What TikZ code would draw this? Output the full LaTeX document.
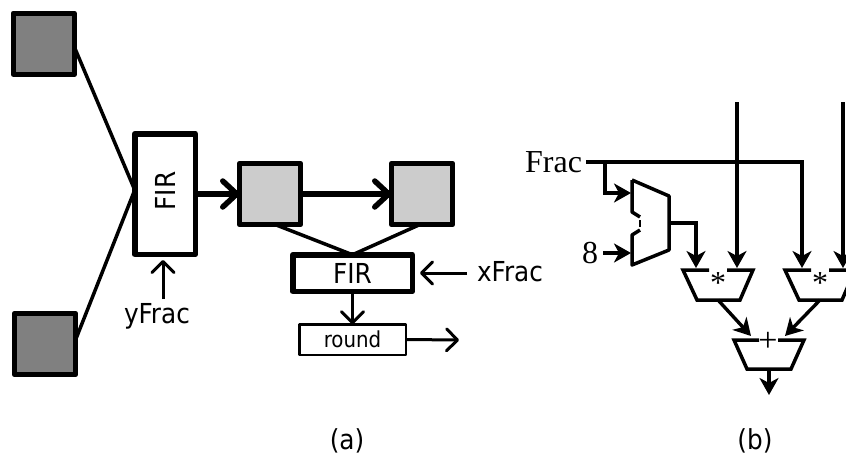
\documentclass[tikz,border=0pt]{standalone}
\usepackage{fontspec}
\usetikzlibrary{arrows.meta,calc}
\setmainfont{DejaVu Sans Condensed}
\newfontfamily\serifface{Liberation Serif}
\tikzset{
  x=1pt,y=-1pt,
  box/.style={draw=black,outer sep=0pt,inner sep=0pt,line join=round},
  thickbox/.style={box,line width=5.5pt},
  dark/.style={thickbox,fill=black!50,minimum width=61pt,minimum height=61pt},
  light/.style={thickbox,fill=black!20,minimum width=61pt,minimum height=61pt},
  lab/.style={inner sep=0pt,outer sep=0pt,font=\fontsize{27.5}{30}\selectfont},
  serif/.style={inner sep=0pt,outer sep=0pt,font=\fontsize{32}{35}\selectfont\serifface},
  feed/.style={line width=3.5pt},
  bigarrow/.style={line width=5.5pt,-{Straight Barb[length=14pt,width=26pt,round]}},
  openarrow/.style={line width=3pt,-{Straight Barb[length=11pt,width=22pt,round]}},
  wire/.style={line width=3.4pt,line join=miter},
  solid tip/.style={wire,-{Stealth[length=17pt,width=19pt,inset=5pt]}},
  unit/.style={line width=3.5pt,line join=miter,line cap=butt},
}
\begin{document}
\begin{tikzpicture}
\useasboundingbox (0,0) rectangle (846,463);
\clip (0,0) rectangle (846,463);
% (a)
\node[dark] (tl) at (43.75,43.75) {};
\node[dark] (bl) at (45,344) {};
\node[thickbox,fill=white,minimum width=60.5pt,minimum height=120.5pt] (fir1) at (165,194) {};
\node[lab,rotate=90] (fir1t) at (165,191) {FIR};
\node[light] (g1) at (270,194) {};
\node[light] (g2) at (422,194) {};
\node[thickbox,fill=white,minimum width=119.5pt,minimum height=36.5pt,lab] (fir2) at (352.5,273) {FIR};
\node[box,fill=white,line width=2.5pt,minimum width=106.5pt,minimum height=30.5pt,font=\fontsize{22}{25}\selectfont] (rnd) at (352.5,339.5) {round};
\node[lab] (yf) at (157,316) {yFrac};
\node[lab] (xf) at (510,272) {xFrac};
\node[lab] (capa) at (347,441) {(a)};
\coordinate (out) at (459,340);
\coordinate (xs) at (467,273);
\coordinate (xe) at (420,273);
\coordinate (ys) at (163,299);
\coordinate (ye) at (163,260);
\draw[feed] ([yshift=-3pt]tl.east) -- ([yshift=4pt]fir1.west);
\draw[feed] ([yshift=4pt]bl.east) -- ([yshift=4pt]fir1.west);
\draw[bigarrow] (fir1.east) -- (g1.west);
\draw[bigarrow] (g1.east) -- (g2.west);
\draw[feed] ([xshift=5pt]g1.south) -- (fir2.north);
\draw[feed] ([xshift=-2pt]g2.south) -- (fir2.north);
\draw[openarrow] (fir2.south) -- (rnd.north);
\draw[openarrow] (rnd.east) -- (out);
\draw[openarrow] (xs) -- (xe);
\draw[openarrow] (ys) -- (ye);
% (b)
\node[serif,anchor=east] (frac) at (582,162) {Frac};
\node[serif] (eight) at (590,253) {8};
\node[lab] (capb) at (755,441) {(b)};
\coordinate (fracs) at (586,162);
\coordinate (mxa) at (631,193);
\coordinate (mxb) at (631,253);
\coordinate (mxo) at (669,223);
\coordinate (mA) at (696,268);
\coordinate (mB) at (737,268);
\coordinate (mC) at (802,268);
\coordinate (mD) at (843,268);
\coordinate (topB) at (737,102);
\coordinate (topD) at (843,102);
% mux
\draw[unit,line join=round] (632,180) -- (669,196) -- (669,250) -- (632,265) -- (632,235) -- (640,230);
\draw[unit,line join=round] (632,180) -- (632,212) -- (640,217);
\draw[line width=1.5pt] (640,220) -- (640,227);
% multipliers
\draw[unit] (709,270) -- (683,270) -- (697,300) -- (740,300) -- (753,270) -- (727,270);
\draw[unit] (811,270) -- (785,270) -- (799,300) -- (842,300) -- (855,270) -- (829,270);
\draw[unit] (759,340) -- (734,340) -- (747,369) -- (791,369) -- (804,340) -- (778,340);
\node[serif] (st1) at (718,283) {*};
\node[serif] (st2) at (820,283) {*};
\node[serif,font=\fontsize{34}{35}\selectfont\serifface] (pl) at (768,342) {+};
\coordinate (mulAo) at (718,300);
\coordinate (mulBo) at (820,300);
\coordinate (addA) at (751,336);
\coordinate (addB) at (785,336);
\coordinate (addo) at (769,369);
\coordinate (res) at (769,395);
\coordinate (j1) at (605,162);
\coordinate (j2) at (802,162);
\coordinate (j3) at (605,193);
\coordinate (j4) at (696,223);
\draw[solid tip] (fracs) -- (j2) -- (mC);
\draw[solid tip] (j1) -- (j3) -- (mxa);
\draw[solid tip] (603,253) coordinate (eo) -- (mxb);
\draw[solid tip] (mxo) -- (j4) -- (mA);
\draw[solid tip] (topB) -- (mB);
\draw[solid tip] (topD) -- (mD);
\draw[solid tip] (mulAo) -- (addA);
\draw[solid tip] (mulBo) -- (addB);
\draw[solid tip] (addo) -- (res);
\end{tikzpicture}
\end{document}
